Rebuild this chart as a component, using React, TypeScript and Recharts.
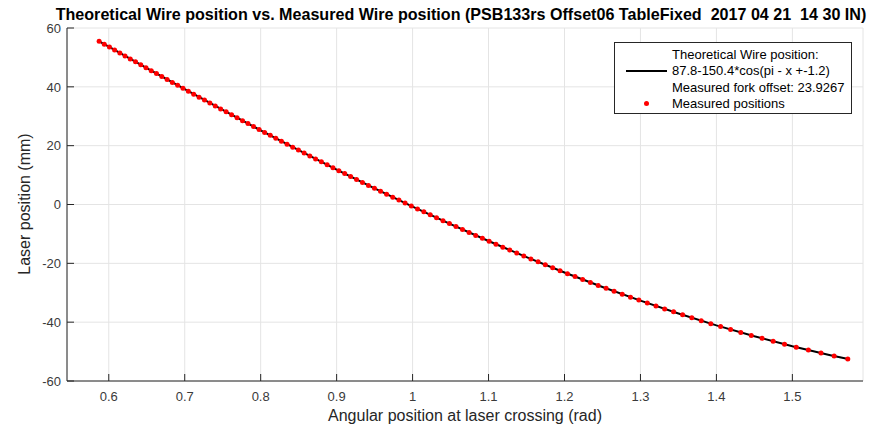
import React from 'react';
import { ScatterChart, Scatter, XAxis, YAxis, CartesianGrid } from 'recharts';

// theoretical wire curve
const lineAngle = [0.585, 0.6, 0.65, 0.7, 0.75, 0.8, 0.85, 0.9, 0.95, 1.0, 1.05, 1.1, 1.15, 1.2, 1.25, 1.3, 1.35, 1.4, 1.45, 1.5, 1.55, 1.575];
const lineWire = [55.83, 53.63, 46.35, 39.18, 32.13, 25.21, 18.45, 11.87, 5.48, -0.71, -6.68, -12.41, -17.89, -23.1, -28.04, -32.69, -37.04, -41.08, -44.79, -48.17, -51.22, -52.61];

// measured positions (red dots)
const measuredAngle = [
  0.5873, 0.5941, 0.6009, 0.6077, 0.6146, 0.6214, 0.6283, 0.6352, 0.6421, 0.649,
  0.6559, 0.6628, 0.6698, 0.6768, 0.6837, 0.6907, 0.6977, 0.7048, 0.7118, 0.7189,
  0.726, 0.7331, 0.7402, 0.7473, 0.7545, 0.7617, 0.7689, 0.7761, 0.7833, 0.7906,
  0.7979, 0.8052, 0.8126, 0.8199, 0.8273, 0.8347, 0.8422, 0.8497, 0.8572, 0.8647,
  0.8723, 0.8799, 0.8875, 0.8952, 0.9029, 0.9106, 0.9184, 0.9262, 0.934, 0.9419,
  0.9498, 0.9578, 0.9658, 0.9739, 0.982, 0.9901, 0.9983, 1.0065, 1.0148, 1.0232,
  1.0315, 1.04, 1.0485, 1.0571, 1.0657, 1.0744, 1.0831, 1.0919, 1.1008, 1.1098,
  1.1188, 1.1279, 1.1371, 1.1464, 1.1557, 1.1652, 1.1747, 1.1844, 1.1941, 1.2039,
  1.2139, 1.2239, 1.2341, 1.2444, 1.2548, 1.2653, 1.276, 1.2869, 1.2979, 1.309,
  1.3204, 1.3319, 1.3436, 1.3555, 1.3676, 1.38, 1.3926, 1.4055, 1.4187, 1.4321,
  1.4459, 1.4601, 1.4747, 1.4897, 1.5051, 1.5211, 1.5377, 1.555, 1.573,
];
const measuredWire = [
  55.5, 54.5, 53.5, 52.5, 51.5, 50.5, 49.5, 48.5, 47.5, 46.5,
  45.5, 44.5, 43.5, 42.5, 41.5, 40.5, 39.5, 38.5, 37.5, 36.5,
  35.5, 34.5, 33.5, 32.5, 31.5, 30.5, 29.5, 28.5, 27.5, 26.5,
  25.5, 24.5, 23.5, 22.5, 21.5, 20.5, 19.5, 18.5, 17.5, 16.5,
  15.5, 14.5, 13.5, 12.5, 11.5, 10.5, 9.5, 8.5, 7.5, 6.5,
  5.5, 4.5, 3.5, 2.5, 1.5, 0.5, -0.5, -1.5, -2.5, -3.5,
  -4.5, -5.5, -6.5, -7.5, -8.5, -9.5, -10.5, -11.5, -12.5, -13.5,
  -14.5, -15.5, -16.5, -17.5, -18.5, -19.5, -20.5, -21.5, -22.5, -23.5,
  -24.5, -25.5, -26.5, -27.5, -28.5, -29.5, -30.5, -31.5, -32.5, -33.5,
  -34.5, -35.5, -36.5, -37.5, -38.5, -39.5, -40.5, -41.5, -42.5, -43.5,
  -44.5, -45.5, -46.5, -47.5, -48.5, -49.5, -50.5, -51.5, -52.5,
];

const xTicks = [0.6, 0.7, 0.8, 0.9, 1, 1.1, 1.2, 1.3, 1.4, 1.5];
const yTicks = [-60, -40, -20, 0, 20, 40, 60];

const TITLE = 'Theoretical Wire position vs. Measured Wire position (PSB133rs Offset06 TableFixed  2017 04 21  14 30 IN)';

const lineData = lineAngle.map((x, i) => ({ x, y: lineWire[i] }));
const measuredData = measuredAngle.map((x, i) => ({ x, y: measuredWire[i] }));

const FONT = '"Liberation Sans", Arial, sans-serif';
const AXIS = '#262626';
const PLOT_LEFT = 67;
const PLOT_BOTTOM = 381;

const XTick = (props: any) => {
  const { x, payload } = props;
  return (
    <g>
      <line x1={x} x2={x} y1={PLOT_BOTTOM} y2={PLOT_BOTTOM - 7} stroke={AXIS} strokeWidth={1} />
      <text x={x} y={400.5} textAnchor="middle" fontSize={13} fill="#3a3a3a" fontFamily={FONT}>
        {payload.value}
      </text>
    </g>
  );
};

const YTick = (props: any) => {
  const { y, payload } = props;
  return (
    <g>
      <line x1={PLOT_LEFT} x2={PLOT_LEFT + 7} y1={y} y2={y} stroke={AXIS} strokeWidth={1} />
      <text x={61} y={y + 4.7} textAnchor="end" fontSize={13} fill="#3a3a3a" fontFamily={FONT}>
        {payload.value}
      </text>
    </g>
  );
};

export default function App() {
  return (
    <div style={{ position: 'absolute', left: 0, top: 0, width: 891, height: 427, background: '#fff', fontFamily: FONT }}>
      <ScatterChart width={891} height={427} margin={{ top: 28, right: 28, left: 0, bottom: 0 }}>
        <CartesianGrid stroke="#e4e4e4" strokeWidth={1} />
        <XAxis
          type="number"
          dataKey="x"
          domain={[0.545, 1.593]}
          ticks={xTicks}
          allowDataOverflow
          height={46}
          axisLine={{ stroke: AXIS }}
          tickLine={false}
          tick={XTick}
          interval={0}
        />
        <YAxis
          type="number"
          dataKey="y"
          domain={[-60, 60]}
          ticks={yTicks}
          allowDataOverflow
          width={67}
          axisLine={{ stroke: AXIS }}
          tickLine={false}
          tick={YTick}
          interval={0}
        />
        <Scatter
          data={lineData}
          line={{ stroke: '#000', strokeWidth: 2 }}
          shape={() => <g />}
          isAnimationActive={false}
        />
        <Scatter
          data={measuredData}
          shape={(p: any) => <circle cx={p.cx} cy={p.cy} r={2.5} fill="#ff0000" />}
          isAnimationActive={false}
        />
      </ScatterChart>

      <div style={{ position: 'absolute', left: 461, top: 5, transform: 'translateX(-50%)', whiteSpace: 'pre', fontSize: 16.1, fontWeight: 'bold', color: '#000', lineHeight: '18px' }}>
        {TITLE}
      </div>
      <div style={{ position: 'absolute', left: 25, top: 204, transform: 'translate(-50%, -50%) rotate(-90deg)', whiteSpace: 'nowrap', fontSize: 16, color: AXIS, lineHeight: '18px' }}>
        Laser position (mm)
      </div>
      <div style={{ position: 'absolute', left: 465, top: 416, transform: 'translate(-50%, -50%)', whiteSpace: 'nowrap', fontSize: 16, color: AXIS, lineHeight: '18px' }}>
        Angular position at laser crossing (rad)
      </div>

      <div style={{ position: 'absolute', left: 614, top: 42, width: 236, height: 70, border: `1px solid ${AXIS}`, background: '#fff', fontSize: 13, color: '#000' }}>
        <div style={{ position: 'absolute', left: 11, top: 27, width: 41, height: 2, background: '#000' }} />
        <div style={{ position: 'absolute', left: 29, top: 58, width: 5, height: 5, borderRadius: '50%', background: '#ff0000' }} />
        {['Theoretical Wire position:', '87.8-150.4*cos(pi - x +-1.2)', 'Measured fork offset: 23.9267', 'Measured positions'].map((t, i) => (
          <div key={t} style={{ position: 'absolute', left: 57, top: 4 + i * 16.3, lineHeight: '16px', whiteSpace: 'nowrap' }}>
            {t}
          </div>
        ))}
      </div>
    </div>
  );
}
